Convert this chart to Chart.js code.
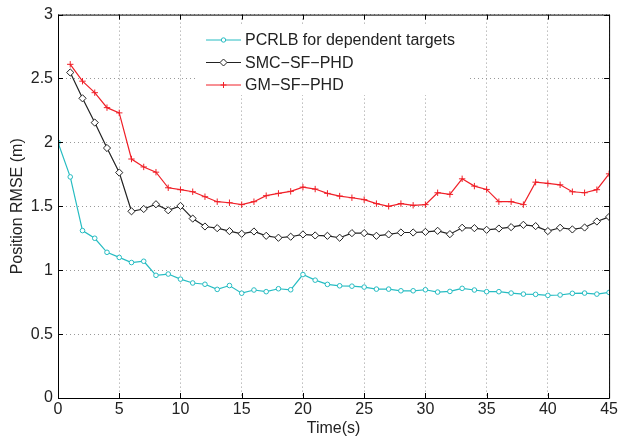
<!DOCTYPE html>
<html>
<head>
<meta charset="utf-8">
<script src="https://cdn.jsdelivr.net/npm/chart.js@4.4.1/dist/chart.umd.min.js"></script>
<style>
  html, body { margin: 0; padding: 0; background: #fff; }
  #wrap { width: 620px; height: 438px; }
</style>
</head>
<body>
<div id="wrap"><canvas id="rmse"></canvas></div>
<script>
// values
const timeSteps = Array.from({ length: 46 }, (_, i) => i);
const pcrlb = [2.0, 1.73, 1.31, 1.25, 1.14, 1.10, 1.06, 1.07, 0.96, 0.97, 0.93, 0.90, 0.89, 0.85, 0.88, 0.82,
  0.845, 0.832, 0.855, 0.847, 0.966, 0.922, 0.889, 0.878, 0.875, 0.868, 0.852, 0.852, 0.839, 0.839, 0.847,
  0.829, 0.834, 0.858, 0.845, 0.832, 0.832, 0.821, 0.813, 0.811, 0.803, 0.806, 0.819, 0.821, 0.813, 0.826];
// SMC and GM curves start at t = 1
const smcSfPhd = [2.547, 2.345, 2.155, 1.956, 1.764, 1.461, 1.479, 1.516, 1.469, 1.503, 1.404, 1.342, 1.329,
  1.306, 1.285, 1.303, 1.269, 1.254, 1.262, 1.28, 1.272, 1.269, 1.254, 1.29, 1.29, 1.269, 1.28, 1.295, 1.295,
  1.30, 1.308, 1.282, 1.332, 1.329, 1.316, 1.326, 1.337, 1.355, 1.345, 1.306, 1.332, 1.319, 1.334, 1.381, 1.417];
const gmSfPhd = [2.611, 2.479, 2.389, 2.272, 2.231, 1.870, 1.808, 1.767, 1.645, 1.630, 1.614, 1.575, 1.536,
  1.528, 1.513, 1.536, 1.583, 1.601, 1.617, 1.650, 1.635, 1.601, 1.580, 1.567, 1.552, 1.521, 1.50, 1.521, 1.508,
  1.513, 1.606, 1.593, 1.715, 1.658, 1.632, 1.536, 1.536, 1.513, 1.689, 1.679, 1.668, 1.614, 1.606, 1.630, 1.754];
const xTicks = [0, 5, 10, 15, 20, 25, 30, 35, 40, 45];
const yTicks = [0, 0.5, 1, 1.5, 2, 2.5, 3];
const yTickLabels = ['0', '0.5', '1', '1.5', '2', '2.5', '3'];

const CYAN = 'rgb(38,188,194)';
const BLACK = '#222';
const RED = 'rgb(240,32,40)';
const FONT = '"Liberation Sans", Arial, sans-serif';
const FSIZE = 16;

const toPoints = (vals, start) => vals.map((v, i) => ({ x: timeSteps[i + start], y: v }));

// matlab-like frame: top/right border, inward ticks, legend box inside the axes
const matlabFrame = {
  id: 'matlabFrame',
  afterDatasetsDraw(chart) {
    const { ctx, chartArea: a, scales: { x, y } } = chart;
    ctx.save();
    ctx.strokeStyle = '#000';
    ctx.lineWidth = 1;
    ctx.beginPath();
    ctx.rect(a.left + 0.5, a.top + 0.5, a.right - a.left, a.bottom - a.top);
    xTicks.forEach(t => {
      const px = Math.round(x.getPixelForValue(t)) + 0.5;
      ctx.moveTo(px, a.bottom); ctx.lineTo(px, a.bottom - 5);
      ctx.moveTo(px, a.top); ctx.lineTo(px, a.top + 5);
    });
    yTicks.forEach(t => {
      const py = Math.round(y.getPixelForValue(t)) + 0.5;
      ctx.moveTo(a.left, py); ctx.lineTo(a.left + 5, py);
      ctx.moveTo(a.right, py); ctx.lineTo(a.right - 5, py);
    });
    ctx.stroke();

    // legend
    const bx = 195, by = 25, bw = 275, bh = 70;
    ctx.fillStyle = '#fff';
    ctx.fillRect(bx, by, bw, bh);
    const rows = [
      { label: 'PCRLB for dependent targets', color: CYAN, mark: 'circle' },
      { label: 'SMC\u2212SF\u2212PHD', color: BLACK, mark: 'diamond' },
      { label: 'GM\u2212SF\u2212PHD', color: RED, mark: 'cross' }
    ];
    ctx.font = FSIZE + 'px ' + FONT;
    ctx.textBaseline = 'middle';
    rows.forEach((r, i) => {
      const cy = 40 + i * 22.5;
      ctx.strokeStyle = r.color;
      ctx.lineWidth = 1;
      ctx.beginPath();
      ctx.moveTo(206, cy); ctx.lineTo(241, cy);
      ctx.stroke();
      ctx.beginPath();
      if (r.mark === 'circle') {
        ctx.arc(223.5, cy, 2.2, 0, Math.PI * 2);
      } else if (r.mark === 'diamond') {
        ctx.moveTo(223.5, cy - 3.5); ctx.lineTo(227, cy); ctx.lineTo(223.5, cy + 3.5); ctx.lineTo(220, cy); ctx.closePath();
      } else {
        ctx.moveTo(220.5, cy); ctx.lineTo(226.5, cy); ctx.moveTo(223.5, cy - 3); ctx.lineTo(223.5, cy + 3);
      }
      if (r.mark !== 'cross') { ctx.fillStyle = '#fff'; ctx.fill(); }
      ctx.stroke();
      ctx.fillStyle = '#222';
      ctx.fillText(r.label, 245, cy + 1);
    });
    ctx.restore();
  }
};

new Chart(document.getElementById('rmse'), {
  type: 'line',
  data: {
    datasets: [
      {
        label: 'PCRLB for dependent targets',
        data: toPoints(pcrlb, 0),
        borderColor: CYAN, backgroundColor: '#fff', borderWidth: 1.2,
        pointStyle: 'circle', pointRadius: 2.3, pointBorderWidth: 1, tension: 0
      },
      {
        label: 'SMC-SF-PHD',
        data: toPoints(smcSfPhd, 1),
        borderColor: BLACK, backgroundColor: '#fff', borderWidth: 1.2,
        pointStyle: 'rectRot', pointRadius: 3.6, pointBorderWidth: 1, tension: 0
      },
      {
        label: 'GM-SF-PHD',
        data: toPoints(gmSfPhd, 1),
        borderColor: RED, backgroundColor: RED, borderWidth: 1.2,
        pointStyle: 'cross', pointRadius: 3.2, pointBorderWidth: 1, tension: 0
      }
    ]
  },
  plugins: [matlabFrame],
  options: {
    responsive: true,
    maintainAspectRatio: false,
    animation: false,
    layout: { padding: { top: 12, right: 9, left: 0, bottom: 0 } },
    plugins: { legend: { display: false }, tooltip: { enabled: false } },
    scales: {
      x: {
        type: 'linear', min: 0, max: 45,
        afterBuildTicks: s => { s.ticks = xTicks.map(v => ({ value: v })); },
        afterFit: s => { s.height = 40; },
        ticks: { color: '#222', font: { family: FONT, size: FSIZE }, padding: 2, maxRotation: 0 },
        grid: { color: '#999', lineWidth: 1, drawTicks: false },
        border: { display: false, dash: [1, 3] },
        title: { display: true, text: 'Time(s)', color: '#222', font: { family: FONT, size: FSIZE }, padding: { top: -3, bottom: 0 } }
      },
      y: {
        min: 0, max: 3,
        afterBuildTicks: s => { s.ticks = yTicks.map(v => ({ value: v })); },
        afterFit: s => { s.width = 58; },
        ticks: {
          color: '#222', font: { family: FONT, size: FSIZE }, padding: 5,
          callback: v => yTickLabels[yTicks.indexOf(v)]
        },
        grid: { color: '#999', lineWidth: 1, drawTicks: false },
        border: { display: false, dash: [1, 3] },
        title: { display: true, text: 'Position RMSE (m)', color: '#222', font: { family: FONT, size: FSIZE }, padding: { top: 8, bottom: 0 } }
      }
    }
  }
});
</script>
</body>
</html>
